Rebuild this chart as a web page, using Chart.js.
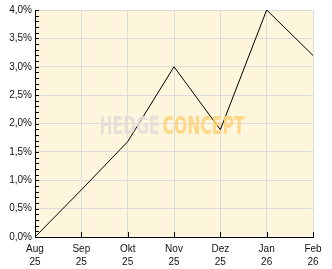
<!DOCTYPE html>
<html>
<head>
<meta charset="utf-8">
<script src="https://cdn.jsdelivr.net/npm/chart.js@4/dist/chart.umd.min.js"></script>
<style>
  html, body { margin: 0; padding: 0; background: #fff; }
  #wrap { width: 332px; height: 269px; }
</style>
</head>
<body>
<div id="wrap"><canvas id="perfChart" width="332" height="269"></canvas></div>
<script>
// chart data
const months = ['Aug', 'Sep', 'Okt', 'Nov', 'Dez', 'Jan', 'Feb'];
const years = ['25', '25', '25', '25', '25', '26', '26'];
const performance = [0, 0.83, 1.68, 3.0, 1.89, 4.0, 3.2];
const yMin = 0;
const yMax = 4;
const yStep = 0.5;
const yMinorStep = 0.1;

const labels = months.map((m, i) => [m, years[i]]);

// cream plot background
const plotBackground = {
  id: 'plotBackground',
  beforeDraw(chart) {
    const { ctx, chartArea: a } = chart;
    ctx.save();
    ctx.fillStyle = '#fef6dc';
    ctx.fillRect(a.left, a.top, a.right - a.left, a.bottom - a.top);
    ctx.restore();
  }
};

// small tick marks drawn inside the plot area
const innerTicks = {
  id: 'innerTicks',
  afterDraw(chart) {
    const { ctx, chartArea: a, scales } = chart;
    ctx.save();
    ctx.strokeStyle = '#000';
    ctx.lineWidth = 1;
    ctx.beginPath();
    const n = Math.round((yMax - yMin) / yMinorStep);
    for (let i = 0; i <= n; i++) {
      const y = Math.round(scales.y.getPixelForValue(yMin + i * yMinorStep)) + 0.5;
      ctx.moveTo(a.left, y);
      ctx.lineTo(a.left + 4, y);
    }
    months.forEach((m, i) => {
      const x = Math.round(scales.x.getPixelForValue(i)) + 0.5;
      ctx.moveTo(x, a.bottom);
      ctx.lineTo(x, a.bottom - 5);
    });
    ctx.stroke();
    ctx.restore();
  }
};

// "HEDGE CONCEPT" watermark
const watermark = {
  id: 'watermark',
  afterDatasetsDraw(chart) {
    const { ctx, chartArea: a } = chart;
    const cx = (a.left + a.right) / 2 - 2;
    const cy = (a.top + a.bottom) / 2 + 1;
    ctx.save();
    ctx.font = 'bold 27px "DejaVu Sans Condensed", "DejaVu Sans"';
    ctx.textBaseline = 'alphabetic';
    ctx.globalAlpha = 0.88;
    const parts = [['HEDGE', '#e2ded6', 60], ['CONCEPT', '#fdd27a', 82]];
    let x = cx - (60 + 3 + 82) / 2;
    parts.forEach(([txt, col, w]) => {
      const m = ctx.measureText(txt);
      const capH = m.actualBoundingBoxAscent;
      const sy = 19 / capH;
      ctx.save();
      ctx.translate(x, cy + 9.5);
      ctx.scale(w / m.width, sy);
      ctx.fillStyle = col;
      ctx.fillText(txt, 0, 0);
      ctx.restore();
      x += w + 3;
    });
    ctx.restore();
  }
};

const ctx = document.getElementById('perfChart').getContext('2d');
new Chart(ctx, {
  type: 'line',
  data: {
    labels: labels,
    datasets: [{
      data: performance,
      borderColor: '#000',
      borderWidth: 1,
      pointRadius: 0,
      tension: 0,
      fill: false
    }]
  },
  options: {
    responsive: false,
    animation: false,
    layout: { padding: { top: 10, right: 19, left: 0, bottom: 0 } },
    plugins: {
      legend: { display: false },
      tooltip: { enabled: false }
    },
    scales: {
      x: {
        offset: false,
        grid: { color: '#dcdcdc', drawTicks: false },
        border: { color: '#000' },
        afterFit: scale => { scale.height = 32; },
        ticks: {
          autoSkip: false,
          maxRotation: 0,
          padding: 6,
          color: '#111',
          font: { family: '"Liberation Sans", Arial', size: 10, lineHeight: 1.25 }
        }
      },
      y: {
        min: yMin,
        max: yMax,
        grid: { color: '#dcdcdc', drawTicks: false },
        border: { color: '#000' },
        afterFit: scale => { scale.width = 35; },
        ticks: {
          stepSize: yStep,
          padding: 3,
          color: '#111',
          font: { family: '"Liberation Sans", Arial', size: 10 },
          callback: v => v.toFixed(1).replace('.', ',') + '%'
        }
      }
    }
  },
  plugins: [plotBackground, innerTicks, watermark]
});
</script>
</body>
</html>
